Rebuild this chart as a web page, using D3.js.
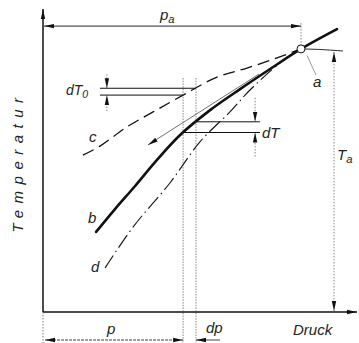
<!DOCTYPE html>
<html>
<head>
<meta charset="utf-8">
<script src="https://cdn.jsdelivr.net/npm/d3@7"></script>
<style>
  body { margin: 0; background: #fff; }
  text { font-family: "Liberation Sans", sans-serif; font-style: italic; fill: #222; }
</style>
</head>
<body>
<svg class="graph"></svg>
<script>
// curves (pressure, temperature in arbitrary units 0..100)
const bP = [17.7, 24, 30.7, 38, 45.7, 55.7, 65.7, 75.7, 86, 98];
const bT = [26.7, 34.3, 42, 50.7, 59, 67.3, 74.3, 81, 87.7, 94.3];
const cP = [13.3, 19, 28, 36.7, 46.7, 58, 68, 78, 86];
const cT = [52.3, 55.3, 61.7, 66.7, 72.3, 78.3, 81.3, 84.7, 87.7];
const dP = [20.7, 30, 42.3, 52.3, 62.3, 69, 79, 86];
const dT = [14.7, 28.3, 43, 56.7, 66.7, 74, 83, 87.7];
const aP = [86, 92.3, 100];
const aT = [87.7, 87.5, 87];
const arrowP = [72, 35];
const arrowT = [79.3, 55.7];

const pa = 86, Ta = 87.7;
const pVal = 46.7, dpVal = 4.3;

const width = 359, height = 343;
const x = d3.scaleLinear().domain([0, 100]).range([43, 343]);
const y = d3.scaleLinear().domain([0, 100]).range([312, 12]);

const svg = d3.select('.graph').attr('width', width).attr('height', height);

const defs = svg.append('defs');
function marker(id) {
  defs.append('marker')
    .attr('id', id)
    .attr('viewBox', '0 -3 10 6')
    .attr('refX', 10).attr('refY', 0)
    .attr('markerWidth', 10).attr('markerHeight', 6)
    .attr('markerUnits', 'userSpaceOnUse')
    .attr('orient', 'auto-start-reverse')
    .append('path')
    .attr('d', 'M0,-2.2L10,0L0,2.2Z')
    .attr('fill', '#111');
}
marker('arr');

const zip = (ps, ts) => ps.map((p, i) => [p, ts[i]]);
const line = d3.line().x(d => x(d[0])).y(d => y(d[1])).curve(d3.curveCatmullRom);
const interp = (ps, ts, p) => {
  const i = d3.bisectRight(ps, p) - 1;
  const t = (p - ps[i]) / (ps[i + 1] - ps[i]);
  return ts[i] + t * (ts[i + 1] - ts[i]);
};

function seg(x1, y1, x2, y2, opts = {}) {
  const l = svg.append('line')
    .attr('x1', x1).attr('y1', y1).attr('x2', x2).attr('y2', y2)
    .attr('stroke', opts.color || '#111')
    .attr('stroke-width', opts.w || 1);
  if (opts.dash) l.attr('stroke-dasharray', opts.dash);
  if (opts.start) l.attr('marker-start', 'url(#arr)');
  if (opts.end) l.attr('marker-end', 'url(#arr)');
  return l;
}

// axes
seg(x(0), y(0), x(0), 9, { w: 1.5, end: true });
seg(x(0), y(0), 357, y(0), { w: 1.5, end: true });
seg(x(0), y(0), x(0), 343, { w: 0.8, dash: '1.5,1.5', color: '#555' });

// curves
svg.append('path').attr('d', line(zip(cP, cT)))
  .attr('fill', 'none').attr('stroke', '#111').attr('stroke-width', 1.3)
  .attr('stroke-dasharray', '12,6');
svg.append('path').attr('d', line(zip(dP, dT)))
  .attr('fill', 'none').attr('stroke', '#111').attr('stroke-width', 1.1)
  .attr('stroke-dasharray', '15,4,1.5,4');
svg.append('path').attr('d', line(zip(bP, bT)))
  .attr('fill', 'none').attr('stroke', '#111').attr('stroke-width', 2.6)
  .attr('stroke-linecap', 'round');
svg.append('path').attr('d', line(zip(aP, aT)))
  .attr('fill', 'none').attr('stroke', '#111').attr('stroke-width', 0.9);
svg.append('path').attr('d', d3.line().x(d => x(d[0])).y(d => y(d[1]))(zip(arrowP, arrowT)))
  .attr('fill', 'none').attr('stroke', '#333').attr('stroke-width', 0.7)
  .attr('marker-end', 'url(#arr)');

// point a
svg.append('circle').attr('cx', x(pa)).attr('cy', y(Ta)).attr('r', 4)
  .attr('fill', '#fff').attr('stroke', '#111').attr('stroke-width', 1);
seg(x(88), y(85.5), x(91), y(79), { w: 0.6, color: '#555' });

// pa dimension
seg(x(pa), y(95.3) - 3, x(pa), y(Ta) - 4, { w: 0.7, dash: '1.5,1.5', color: '#555' });
seg(x(0) + 1, y(95.3), x(pa), y(95.3), { w: 0.9, start: true, end: true });

// Ta dimension
seg(x(97), y(Ta) + 3, x(97), y(0) - 1, { w: 0.7, dash: '1.5,1.5', color: '#555', start: true, end: true });

// p, p+dp verticals
[pVal, pVal + dpVal].forEach(p => {
  seg(x(p), y(78), x(p), 343, { w: 0.7, dash: '1.5,1.2', color: '#555' });
});

// dT on curve b
const b1 = interp(bP, bT, pVal), b2 = interp(bP, bT, pVal + dpVal);
seg(x(pVal), y(b1), x(72.3), y(b1), { w: 1 });
seg(x(pVal + dpVal), y(b2), x(72.3), y(b2), { w: 1 });
seg(x(70.7), y(b2) - 24, x(70.7), y(b2), { w: 0.7, dash: '1.5,1.5', color: '#555', end: true });
seg(x(70.7), y(b1) + 24, x(70.7), y(b1), { w: 0.7, dash: '1.5,1.5', color: '#555', end: true });

// dT0 on curve c
const c1 = interp(cP, cT, pVal), c2 = interp(cP, cT, pVal + dpVal);
seg(x(19), y(c1), x(pVal), y(c1), { w: 1 });
seg(x(19), y(c2), x(pVal + dpVal), y(c2), { w: 1 });
seg(x(21.3), y(c2) - 14, x(21.3), y(c2), { w: 0.7, dash: '1.5,1.5', color: '#555', end: true });
seg(x(21.3), y(c1) + 16, x(21.3), y(c1), { w: 0.7, dash: '1.5,1.5', color: '#555', end: true });

// bottom p / dp dimensions
seg(x(0) + 2, 340, x(pVal), 340, { w: 0.8, dash: '3,1', start: true, end: true });
seg(x(59), 340, x(pVal + dpVal), 340, { w: 0.8, end: true });

// labels
function label(tx, ty, main, sub, size = 15) {
  const t = svg.append('text').attr('x', tx).attr('y', ty).attr('font-size', size);
  t.append('tspan').text(main);
  if (sub) t.append('tspan').attr('font-size', size * 0.75).attr('dy', 3).text(sub);
  return t;
}
label(160, 20, 'p', 'a');
label(313, 87, 'a');
label(337, 160, 'T', 'a');
label(66, 95, 'dT', '0', 14);
label(262, 138, 'dT', null, 15);
label(89, 142, 'c');
label(88, 223, 'b');
label(91, 272, 'd');
label(107, 334, 'p');
label(206, 333, 'dp');
label(293, 335, 'Druck');

svg.append('text')
  .attr('transform', 'translate(23,162) rotate(-90)')
  .attr('text-anchor', 'middle')
  .attr('font-size', 15)
  .attr('letter-spacing', 6.5)
  .text('Temperatur');
</script>
</body>
</html>
